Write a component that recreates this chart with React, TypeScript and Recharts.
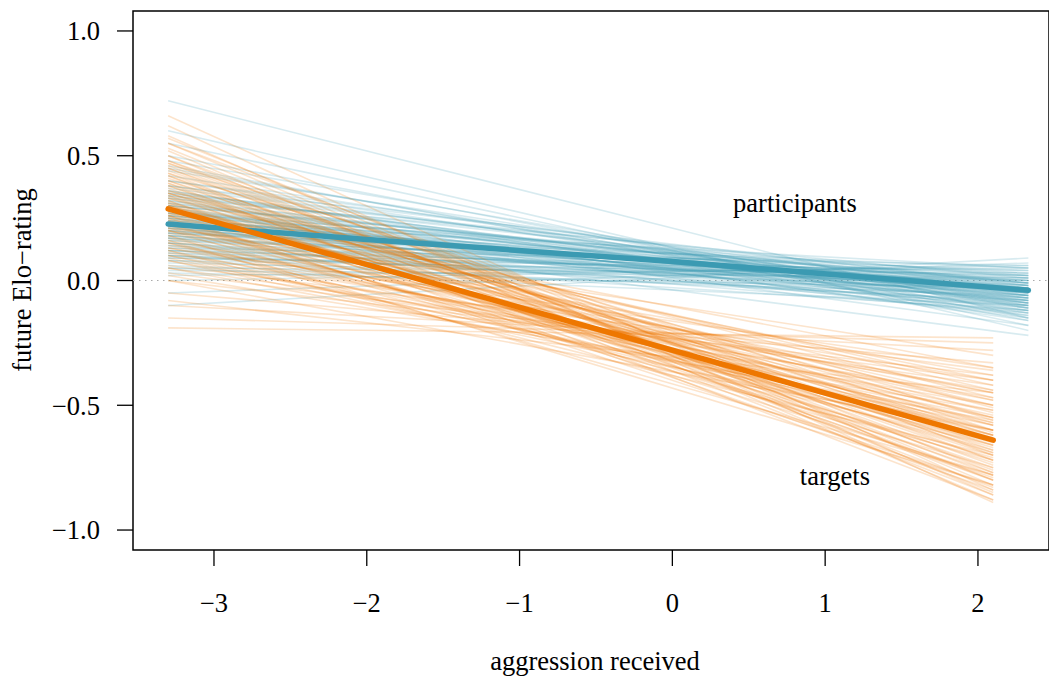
import {
  LineChart,
  Line,
  XAxis,
  YAxis,
  ReferenceLine,
  ReferenceArea,
  ReferenceDot,
} from 'recharts';

// x range of the fitted lines
const PART_X = [-3.3, 2.33];
const TARG_X = [-3.3, 2.1];

// posterior sample lines: [value at left end, value at right end]
const participantSamples: [number, number][] = [
  [0.22, -0.04], [0.25, -0.05], [0.18, -0.02], [0.30, -0.07], [0.12, 0.00],
  [0.35, -0.09], [0.08, 0.02], [0.27, -0.03], [0.20, -0.06], [0.15, -0.03],
  [0.40, -0.11], [0.05, 0.03], [0.24, -0.01], [0.32, -0.05], [0.10, -0.02],
  [0.28, -0.08], [0.17, 0.01], [0.45, -0.13], [0.02, 0.05], [0.21, -0.05],
  [0.26, -0.04], [0.14, -0.01], [0.33, -0.10], [0.19, -0.03], [0.23, -0.07],
  [0.11, 0.02], [0.38, -0.08], [0.29, -0.06], [0.16, -0.04], [0.22, -0.02],
  [0.50, -0.15], [-0.05, 0.07], [0.31, -0.04], [0.13, -0.05], [0.36, -0.12],
  [0.07, 0.00], [0.25, -0.09], [0.20, 0.00], [0.42, -0.10], [0.09, 0.04],
  [0.27, -0.11], [0.18, -0.06], [0.34, -0.07], [0.12, 0.03], [0.55, -0.18],
  [0.00, 0.06], [0.24, -0.03], [0.30, -0.02], [0.15, -0.07], [0.60, -0.20],
  [-0.10, 0.09], [0.21, -0.08], [0.28, -0.01], [0.17, -0.04], [0.37, -0.06],
  [0.04, 0.01], [0.26, -0.13], [0.19, 0.02], [0.46, -0.16], [0.10, -0.04],
  [0.72, -0.15], [0.26, 0.00], [0.18, -0.08], [0.30, -0.01], [0.14, -0.10],
  [0.34, -0.03], [0.10, -0.12], [0.22, 0.03], [0.28, -0.12], [0.16, 0.04],
  [0.36, -0.14], [0.06, -0.06], [0.24, 0.05], [0.32, -0.16], [0.12, -0.09],
  [0.20, -0.11], [0.38, -0.02], [0.08, -0.08], [0.27, 0.02], [0.15, -0.13],
  [0.31, -0.09], [0.19, 0.05], [0.23, -0.14], [0.35, -0.01], [0.11, -0.07],
  [0.29, -0.15], [0.13, 0.06], [0.40, -0.05], [0.05, -0.10], [0.25, -0.06],
  [0.21, -0.10], [0.33, 0.01], [0.17, -0.12], [0.44, -0.09], [0.09, 0.01],
  [0.28, -0.18], [0.03, -0.03], [0.48, -0.11], [0.22, -0.22],
];

const targetSamples: [number, number][] = [
  [0.29, -0.64], [0.35, -0.70], [0.22, -0.58], [0.40, -0.75], [0.15, -0.52],
  [0.45, -0.80], [0.10, -0.47], [0.30, -0.60], [0.25, -0.68], [0.33, -0.62],
  [0.50, -0.85], [0.05, -0.42], [0.28, -0.55], [0.38, -0.66], [0.18, -0.60],
  [0.42, -0.72], [0.20, -0.50], [0.55, -0.82], [0.00, -0.38], [0.31, -0.67],
  [0.26, -0.63], [0.36, -0.58], [0.12, -0.55], [0.47, -0.76], [0.23, -0.71],
  [0.34, -0.53], [0.08, -0.50], [0.52, -0.88], [-0.05, -0.33], [0.27, -0.66],
  [0.39, -0.61], [0.16, -0.45], [0.44, -0.69], [0.21, -0.65], [0.58, -0.86],
  [-0.10, -0.28], [0.32, -0.73], [0.13, -0.48], [0.48, -0.78], [0.03, -0.40],
  [0.29, -0.57], [0.37, -0.77], [0.19, -0.54], [0.62, -0.89], [-0.15, -0.25],
  [0.24, -0.62], [0.41, -0.64], [0.11, -0.44], [0.53, -0.80], [0.06, -0.36],
  [0.30, -0.69], [0.17, -0.57], [0.46, -0.74], [-0.19, -0.23], [0.35, -0.51],
  [0.09, -0.58], [0.66, -0.84], [0.26, -0.48], [0.43, -0.83], [0.14, -0.40],
  [0.35, -0.55], [0.20, -0.72], [0.40, -0.62], [0.15, -0.66], [0.45, -0.68],
  [0.25, -0.78], [0.30, -0.50], [0.10, -0.60], [0.38, -0.80], [0.22, -0.45],
  [0.50, -0.72], [0.18, -0.82], [0.33, -0.44], [0.05, -0.56], [0.42, -0.86],
  [0.27, -0.40], [0.12, -0.70], [0.47, -0.60], [0.32, -0.84], [0.08, -0.62],
  [0.36, -0.47], [0.24, -0.75], [0.55, -0.70], [0.02, -0.52], [0.28, -0.35],
  [0.16, -0.78], [0.43, -0.56], [0.20, -0.38], [0.39, -0.88], [0.00, -0.60],
  [0.31, -0.42], [0.26, -0.82], [0.48, -0.64], [0.13, -0.35], [0.57, -0.77],
  [-0.08, -0.45], [0.34, -0.79], [0.21, -0.30],
];

// posterior mean lines
const participantMean = [
  { x: -3.3, y: 0.226 },
  { x: -2, y: 0.164 },
  { x: 0, y: 0.076 },
  { x: 2.33, y: -0.039 },
];
const targetMean = [
  { x: -3.3, y: 0.287 },
  { x: 2.1, y: -0.64 },
];

const xTicks = [-3, -2, -1, 0, 1, 2];
const yTicks = [-1, -0.5, 0, 0.5, 1];

const BLUE = '#3B9AB2';
const ORANGE = '#EE7700';
const FONT = '"Liberation Serif", "Times New Roman", serif';
const FS = 26.5;

const X_DOMAIN: [number, number] = [-3.53, 2.465];
const Y_DOMAIN: [number, number] = [-1.08, 1.08];

const fmtX = (v: number) => (v < 0 ? `\u2212${Math.abs(v)}` : `${v}`);
const fmtY = (v: number) => (v < 0 ? `\u2212${Math.abs(v).toFixed(1)}` : v.toFixed(1));

export default function App() {
  const tickStyle = { fontFamily: FONT, fontSize: FS, fill: '#000' };

  return (
    <div style={{ position: 'absolute', left: 0, top: 0, width: 1049, height: 677, fontFamily: FONT }}>
      <LineChart width={1049} height={677} margin={{ top: 11, right: 0, bottom: 67, left: 0 }}>
        <XAxis
          type="number"
          dataKey="x"
          domain={X_DOMAIN}
          ticks={xTicks}
          allowDataOverflow
          axisLine={false}
          tickLine={{ stroke: '#000', strokeWidth: 1.3 }}
          tickSize={16}
          tickMargin={27}
          height={60}
          tick={tickStyle}
          tickFormatter={fmtX}
        />
        <YAxis
          type="number"
          dataKey="y"
          domain={Y_DOMAIN}
          ticks={yTicks}
          allowDataOverflow
          axisLine={false}
          tickLine={{ stroke: '#000', strokeWidth: 1.3 }}
          tickSize={16}
          tickMargin={17}
          width={133}
          tick={tickStyle}
          tickFormatter={fmtY}
        />

        <ReferenceLine y={0} stroke="#aaa" strokeWidth={1.2} strokeDasharray="1.5 4.5" />

        {participantSamples.map(([a, b], i) => (
          <Line
            key={`p${i}`}
            data={[{ x: PART_X[0], y: a }, { x: PART_X[1], y: b }]}
            dataKey="y"
            type="linear"
            stroke={BLUE}
            strokeOpacity={0.2}
            strokeWidth={1.6}
            dot={false}
            activeDot={false}
            isAnimationActive={false}
          />
        ))}
        {targetSamples.map(([a, b], i) => (
          <Line
            key={`t${i}`}
            data={[{ x: TARG_X[0], y: a }, { x: TARG_X[1], y: b }]}
            dataKey="y"
            type="linear"
            stroke={ORANGE}
            strokeOpacity={0.2}
            strokeWidth={1.6}
            dot={false}
            activeDot={false}
            isAnimationActive={false}
          />
        ))}

        <Line
          data={participantMean}
          dataKey="y"
          type="linear"
          stroke={BLUE}
          strokeWidth={5.5}
          strokeLinecap="round"
          dot={false}
          activeDot={false}
          isAnimationActive={false}
        />
        <Line
          data={targetMean}
          dataKey="y"
          type="linear"
          stroke={ORANGE}
          strokeWidth={5.5}
          strokeLinecap="round"
          dot={false}
          activeDot={false}
          isAnimationActive={false}
        />

        <ReferenceDot
          x={0.802}
          y={0.312}
          r={0}
          fill="none"
          stroke="none"
          label={{ value: 'participants', position: 'center', fontFamily: FONT, fontSize: FS, fill: '#000' }}
        />
        <ReferenceDot
          x={1.064}
          y={-0.782}
          r={0}
          fill="none"
          stroke="none"
          label={{ value: 'targets', position: 'center', fontFamily: FONT, fontSize: FS, fill: '#000' }}
        />

        {/* box around the plot region */}
        <ReferenceArea
          x1={X_DOMAIN[0]}
          x2={X_DOMAIN[1]}
          y1={Y_DOMAIN[0]}
          y2={Y_DOMAIN[1]}
          fill="none"
          fillOpacity={0}
          stroke="#000"
          strokeWidth={1.5}
          strokeOpacity={1}
        />
      </LineChart>

      {/* axis titles */}
      <div
        style={{
          position: 'absolute',
          left: 395,
          top: 648,
          width: 400,
          textAlign: 'center',
          fontSize: FS,
          lineHeight: 1,
          whiteSpace: 'nowrap',
        }}
      >
        aggression received
      </div>
      <div
        style={{
          position: 'absolute',
          left: 22,
          top: 280,
          fontSize: FS,
          lineHeight: 1,
          whiteSpace: 'nowrap',
          transform: 'translate(-50%, -50%) rotate(-90deg)',
        }}
      >
        future Elo−rating
      </div>
    </div>
  );
}
